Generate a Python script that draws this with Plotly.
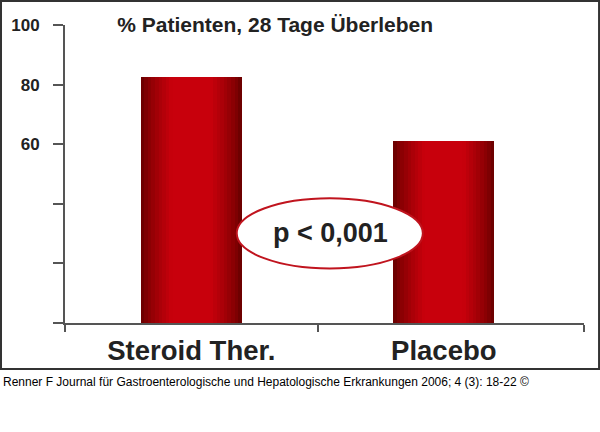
import numpy as np
import plotly.graph_objects as go

CATEGORIES = ["Steroid Ther.", "Placebo"]
SURVIVAL = [82.5, 61]
Y_TICKS = [0, 20, 40, 60, 80, 100]
Y_TICK_LABELS = ["", "", "", "60", "80", "100"]

TITLE = "% Patienten, 28 Tage Überleben"
P_TEXT = "p < 0,001"
SOURCE = "Renner F Journal für Gastroenterologische und Hepatologische Erkrankungen 2006; 4 (3): 18-22 ©"

DARK = np.array([110, 0, 0])
BRIGHT = np.array([200, 0, 12])
FONT = "Liberation Sans, Arial, sans-serif"
TXT = "#222222"


def main():
    x = list(range(len(CATEGORIES)))
    fig = go.Figure()

    # fake the horizontal gradient with overlaid bars that get narrower and brighter
    n_layers = 14
    for i in range(n_layers):
        t = i / (n_layers - 1)
        w = 0.4 * (1 - 0.92 * t)
        c = DARK + (BRIGHT - DARK) * min(1.0, (t * 1.6) ** 0.8)
        fig.add_bar(
            x=x,
            y=SURVIVAL,
            width=w,
            marker=dict(color="rgb(%d,%d,%d)" % tuple(c.astype(int)), line=dict(width=0)),
            hoverinfo="skip",
            showlegend=False,
        )

    # p-value ellipse
    fig.add_shape(
        type="circle", xref="x", yref="y",
        x0=0.18, x1=0.917, y0=18.3, y1=41.9,
        fillcolor="white", line=dict(color="#c0141e", width=2), layer="above",
    )
    fig.add_annotation(
        x=0.55, y=30.2, xref="x", yref="y", text="<b>%s</b>" % P_TEXT,
        showarrow=False, font=dict(size=27, color=TXT, family=FONT),
    )

    # outer frame
    fig.add_shape(
        type="rect", xref="paper", yref="paper",
        x0=-0.1233, x1=1.029, y0=-0.1544, y1=1.0805,
        line=dict(color="#333333", width=2), layer="below",
    )
    fig.add_annotation(
        x=-0.1233, y=-0.198, xref="paper", yref="paper", xanchor="left", yanchor="middle",
        text=SOURCE, showarrow=False, font=dict(size=12, color="black", family=FONT),
    )

    fig.update_layout(
        width=600, height=432,
        margin=dict(l=65, r=16, t=25, b=109),
        paper_bgcolor="white", plot_bgcolor="white",
        barmode="overlay", bargap=0,
        font=dict(family=FONT, color=TXT),
        title=dict(
            text="<b>%s</b>" % TITLE, xref="paper", x=0.405, xanchor="center",
            yref="container", y=1 - 25 / 432, yanchor="middle",
            font=dict(size=21, color=TXT, family=FONT),
        ),
        xaxis=dict(
            range=[-0.5, 1.555], tickvals=x, ticktext=["<b>%s</b>" % c for c in CATEGORIES],
            ticks="", showline=True, linecolor="#555555", linewidth=2,
            showgrid=False, zeroline=False, ticklabelstandoff=2,
            tickfont=dict(size=27.5, color=TXT, family=FONT),
            minor=dict(tickvals=[-0.5, 0.5, 1.555], ticks="outside", ticklen=7,
                       tickcolor="#555555", tickwidth=2, showgrid=False),
        ),
        yaxis=dict(
            range=[0, 100], tickvals=Y_TICKS, ticktext=["<b>%s</b>" % t if t else "" for t in Y_TICK_LABELS],
            ticks="outside", ticklen=10, tickcolor="#555555", tickwidth=2,
            showline=True, linecolor="#555555", linewidth=2,
            showgrid=False, zeroline=False, ticklabelstandoff=10,
            tickfont=dict(size=17, color=TXT, family=FONT),
        ),
    )

    # drop the browser's default body margin so the figure sits at the page corner
    fig.write_html(
        "out.html",
        config={"displayModeBar": False},
        post_script="document.body.style.margin='0px';",
    )


if __name__ == "__main__":
    main()
